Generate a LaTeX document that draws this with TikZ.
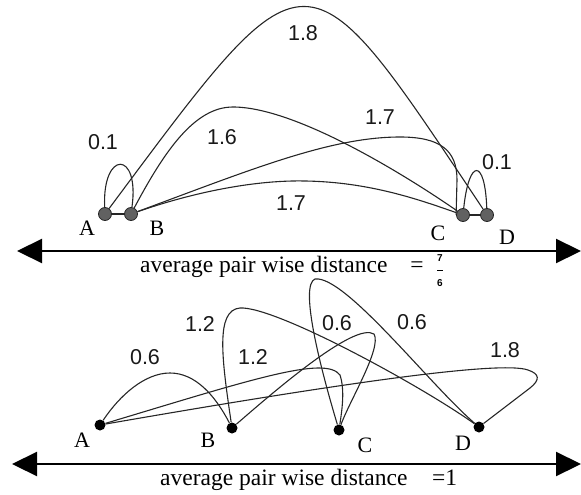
\documentclass[tikz,border=0pt]{standalone}
\usepackage{fontspec}
\setmainfont{Liberation Serif}
\newfontfamily\labfont{Liberation Sans}
\usetikzlibrary{arrows.meta,backgrounds}
\begin{document}
\begin{tikzpicture}[x=1pt,y=-1pt,
  topdot/.style={circle,fill=black!62,draw=black!85,line width=0.8pt,minimum size=13pt,inner sep=0pt},
  botdot/.style={circle,fill=black,minimum size=11pt,inner sep=0pt},
  edge/.style={draw=black!85,line width=1.1pt},
  num/.style={font=\labfont\fontsize{21.5}{21.5}\selectfont,text=black!90,inner sep=0pt},
  letter/.style={font=\fontsize{22}{22}\selectfont,inner sep=0pt},
  axis/.style={line width=2.2pt,{Triangle[length=25pt,width=24pt]}-{Triangle[length=25pt,width=24pt]}},
  caption/.style={font=\fontsize{23.5}{23.5}\selectfont,anchor=base west,inner sep=0pt},
  frac/.style={font=\labfont\bfseries\fontsize{10}{10}\selectfont,inner sep=0pt}
]
\useasboundingbox (0,0) rectangle (581,495);

% ---------- top diagram ----------
\node[topdot] (A) at (105,214) {};
\node[topdot] (B) at (131,214) {};
\node[topdot] (C) at (463,215) {};
\node[topdot] (D) at (487,215) {};

\begin{scope}[on background layer]
\draw[edge] (A) -- (B);
\draw[edge] (C) -- (D);
\draw[edge] (A) .. controls (102,150) and (140,150) .. (B);
\draw[edge] (A) .. controls (310,-61) and (303,-61) .. (D);
\draw[edge] (B) .. controls (165,150) and (195,107) .. (233,107)
                .. controls (300,107) and (420,185) .. (C);
\draw[edge] (B) .. controls (250,170) and (330,137) .. (400,137)
                .. controls (440,137) and (457,150) .. (457,180) -- (C.west);
\draw[edge] (B) .. controls (200,190) and (260,180) .. (305,181)
                .. controls (370,182) and (420,200) .. (C);
\draw[edge] (C) .. controls (469,158) and (485,158) .. (D);
\end{scope}

\node[num] (l1) at (303,33) {1.8};
\node[num] (l2) at (222,137) {1.6};
\node[num] (l3) at (103,142) {0.1};
\node[num] (l4) at (380,117) {1.7};
\node[num] (l5) at (497,162) {0.1};
\node[num] (l6) at (291,203) {1.7};

\node[letter] (nA) at (87,228) {A};
\node[letter] (nB) at (157,228) {B};
\node[letter] (nC) at (438,233) {C};
\node[letter] (nD) at (507,237) {D};

\coordinate (tl) at (17,251);
\coordinate (tr) at (581,251);
\draw[axis] (tl) -- (tr);

\node[caption] (t1) at (140,272) {average pair wise distance};
\node[caption,anchor=center] (eq1) at (417,267) {=};
\node[frac] (f7) at (440,258) {7};
\node[inner sep=0pt] (fbar) at (440,270) {\rule{6pt}{1pt}};
\node[frac] (f6) at (440,283) {6};

% ---------- bottom diagram ----------
\node[botdot] (A2) at (100,425) {};
\node[botdot] (B2) at (232,428) {};
\node[botdot] (C2) at (339,430) {};
\node[botdot] (D2) at (479,427) {};

\begin{scope}[on background layer]
\draw[edge] (A2) .. controls (120,395) and (145,373) .. (170,373)
                 .. controls (195,373) and (215,395) .. (B2);
\draw[edge] (A2) .. controls (250,380) and (325,355) .. (340,375)
                 .. controls (345,390) and (342,410) .. (C2);
\draw[edge] (A2) .. controls (330,385) and (500,360) .. (528,370)
                 .. controls (540,374) and (540,380) .. (530,388) -- (D2);
\draw[edge] (B2) .. controls (222,360) and (215,310) .. (240,308)
                 .. controls (275,306) and (420,385) .. (D2);
\draw[edge] (B2) .. controls (278,388) and (355,322) .. (374,334)
                 .. controls (382,348) and (350,400) .. (C2);
\draw[edge] (C2) .. controls (318,360) and (300,285) .. (315,279)
                 .. controls (345,275) and (430,385) .. (D2);
\end{scope}

\node[num] (m1) at (145,357) {0.6};
\node[num] (m2) at (200,324) {1.2};
\node[num] (m3) at (253,357) {1.2};
\node[num] (m4) at (337,323) {0.6};
\node[num] (m5) at (412,322) {0.6};
\node[num] (m6) at (505,350) {1.8};

\node[letter] (nA2) at (82,440) {A};
\node[letter] (nB2) at (208,440) {B};
\node[letter] (nC2) at (365,445) {C};
\node[letter] (nD2) at (463,443) {D};

\coordinate (bl) at (12,464);
\coordinate (br) at (581,464);
\draw[axis] (bl) -- (br);

\node[caption] (t2) at (160,485) {average pair wise distance};
\node[caption] (eq2) at (432,485) {=1};
\end{tikzpicture}
\end{document}
